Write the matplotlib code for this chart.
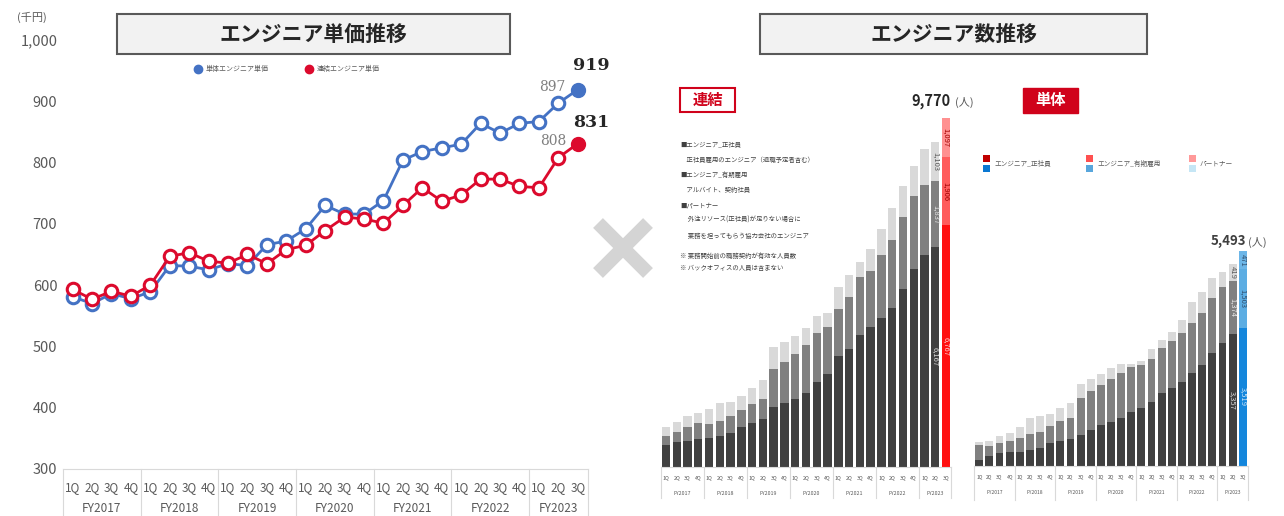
import numpy as np
import matplotlib.pyplot as plt
from matplotlib.patches import Rectangle
from matplotlib.lines import Line2D

plt.rcParams['font.family'] = ['Noto Sans CJK JP', 'DejaVu Sans']

W, H = 1284, 516

# ---- データ: エンジニア単価推移 (千円) ----
quarters = ['1Q', '2Q', '3Q', '4Q'] * 6 + ['1Q', '2Q', '3Q']
years = ['FY2017', 'FY2018', 'FY2019', 'FY2020', 'FY2021', 'FY2022', 'FY2023']
year_len = [4, 4, 4, 4, 4, 4, 3]
price_tantai = [581, 570, 586, 578, 589, 632, 631, 625, 635, 632, 666, 672, 692, 730,
                716, 716, 738, 804, 818, 824, 830, 864, 848, 864, 867, 897, 919]
price_renketsu = [593, 577, 590, 582, 600, 647, 653, 639, 636, 650, 635, 658, 665, 689,
                  711, 708, 701, 730, 759, 737, 747, 773, 773, 761, 759, 808, 831]

# ---- データ: エンジニア数推移 (人) 連結 ----
ren_seishain = [610, 690, 730, 780, 820, 880, 940, 1110, 1240, 1340, 1670, 1780, 1910, 2080,
                2390, 2600, 3120, 3300, 3700, 3910, 4160, 4460, 5000, 5540, 5940, 6167, 6767]
ren_yuki = [260, 300, 390, 460, 390, 410, 490, 490, 520, 570, 1070, 1170, 1250, 1340,
            1350, 1310, 1300, 1450, 1630, 1590, 1780, 1900, 2000, 2060, 1960, 1837, 1906]
ren_partner = [260, 260, 310, 260, 410, 490, 400, 400, 460, 530, 610, 540, 510, 480,
               500, 390, 610, 630, 420, 600, 720, 900, 870, 830, 1020, 1103, 1097]

# ---- 単体 ----
tan_seishain = [146, 256, 317, 342, 358, 409, 452, 572, 623, 675, 784, 912, 1032, 1117,
                1226, 1380, 1482, 1635, 1865, 1993, 2146, 2361, 2566, 2872, 3148, 3357, 3519]
tan_yuki = [383, 255, 255, 297, 350, 393, 417, 450, 511, 551, 946, 1004, 1038, 1098,
            1150, 1149, 1083, 1083, 1135, 1193, 1237, 1277, 1348, 1420, 1410, 1374, 1503]
tan_partner = [84, 120, 187, 189, 273, 424, 401, 299, 348, 376, 365, 299, 265, 281,
               230, 71, 118, 264, 212, 238, 347, 552, 532, 511, 392, 419, 471]

ren_total = 9770
tan_total = 5493

BLUE = '#4472c4'
RED = '#dc0a2d'
GRAY_TXT = '#595959'


def fx(x):
    return x / W


def fy(y):
    return 1 - y / H


def fig_rect(fig, x0, y0, x1, y1, **kw):
    fig.add_artist(Rectangle((fx(x0), fy(y1)), (x1 - x0) / W, (y1 - y0) / H,
                             transform=fig.transFigure, **kw))


def cat_axis(ax, q_y, y_y, bot_y, qsize, ysize):
    n = len(quarters)
    for i, q in enumerate(quarters):
        ax.text(i, q_y, q, transform=ax.get_xaxis_transform(), ha='center', va='center',
                fontsize=qsize, color=GRAY_TXT)
    start = 0
    edges = [-0.5]
    for yr, ln in zip(years, year_len):
        ax.text(start + (ln - 1) / 2, y_y, yr, transform=ax.get_xaxis_transform(),
                ha='center', va='center', fontsize=ysize, color=GRAY_TXT)
        start += ln
        edges.append(start - 0.5)
    for e in edges:
        ax.add_line(Line2D([e, e], [0, bot_y], transform=ax.get_xaxis_transform(),
                           color='#d9d9d9', lw=0.8, clip_on=False))
    ax.set_xlim(-0.5, n - 0.5)
    ax.set_xticks([])
    for s in ['top', 'right', 'left']:
        ax.spines[s].set_visible(False)
    ax.spines['bottom'].set_color('#d9d9d9')
    ax.spines['bottom'].set_linewidth(0.8)


fig = plt.figure(figsize=(W / 100, H / 100), dpi=100)

# ================= 左: 単価推移 =================
ax = fig.add_axes([fx(62.9), fy(469), (587.5 - 62.9) / W, (469 - 40) / H])
x = np.arange(len(quarters))
ax.plot(x[:-1], price_tantai[:-1], color=BLUE, lw=2, marker='o', ms=9,
        mfc='white', mec=BLUE, mew=2.2, zorder=3)
ax.plot(x[-2:], price_tantai[-2:], color=BLUE, lw=2, zorder=2)
ax.plot(x[-1], price_tantai[-1], marker='o', ms=10, color=BLUE, zorder=4)
ax.plot(x[:-1], price_renketsu[:-1], color=RED, lw=2, marker='o', ms=9,
        mfc='white', mec=RED, mew=2.2, zorder=5)
ax.plot(x[-2:], price_renketsu[-2:], color=RED, lw=2, zorder=4)
ax.plot(x[-1], price_renketsu[-1], marker='o', ms=10, color=RED, zorder=6)
ax.set_ylim(300, 1000)
ax.set_yticks(range(300, 1001, 100))
ax.set_yticklabels([f'{v:,}' for v in range(300, 1001, 100)])
ax.tick_params(axis='y', length=0, pad=4, labelsize=10.5, labelcolor=GRAY_TXT)
cat_axis(ax, -0.042, -0.092, -0.11, 8.5, 8.5)

ax.annotate(f'{price_tantai[-1]}', (x[-1], price_tantai[-1]), xytext=(10, 14),
            textcoords='offset points', ha='center', fontsize=12.5, weight='bold',
            color='#262626', family='DejaVu Serif')
ax.annotate(f'{price_tantai[-2]}', (x[-2], price_tantai[-2]), xytext=(-4, 9),
            textcoords='offset points', ha='center', fontsize=10, color='#7f7f7f',
            family='DejaVu Serif')
ax.annotate(f'{price_renketsu[-1]}', (x[-1], price_renketsu[-1]), xytext=(10, 12),
            textcoords='offset points', ha='center', fontsize=12.5, weight='bold',
            color='#262626', family='DejaVu Serif')
ax.annotate(f'{price_renketsu[-2]}', (x[-2], price_renketsu[-2]), xytext=(-4, 9),
            textcoords='offset points', ha='center', fontsize=10, color='#7f7f7f',
            family='DejaVu Serif')

fig.text(fx(32), fy(17), '(千円)', ha='center', va='center', fontsize=8, color=GRAY_TXT)

# title box
fig_rect(fig, 117, 14, 510, 54, facecolor='#f2f2f2', edgecolor='#595959', lw=1.5)
fig.text(fx(313.5), fy(34), 'エンジニア単価推移', ha='center', va='center',
         fontsize=15, weight='bold', color='#262626')

# legend
fig.add_artist(Line2D([fx(198)], [fy(69)], marker='o', ms=6, color=BLUE,
                      transform=fig.transFigure))
fig.text(fx(206), fy(69), '単体エンジニア単価', va='center', fontsize=5, color=GRAY_TXT)
fig.add_artist(Line2D([fx(309)], [fy(69)], marker='o', ms=6, color=RED,
                      transform=fig.transFigure))
fig.text(fx(317), fy(69), '連結エンジニア単価', va='center', fontsize=5, color=GRAY_TXT)

# gray X
for (x0, y0, x1, y1) in [(598, 223, 648, 273), (598, 273, 648, 223)]:
    fig.add_artist(Line2D([fx(x0), fx(x1)], [fy(y0), fy(y1)], color='#d4d4d4', lw=10,
                          solid_capstyle='butt', transform=fig.transFigure))

# right title
fig_rect(fig, 760, 14, 1147, 54, facecolor='#f2f2f2', edgecolor='#595959', lw=1.5)
fig.text(fx(953.5), fy(34), 'エンジニア数推移', ha='center', va='center',
         fontsize=15, weight='bold', color='#262626')


def stacked(ax, a, b, c, last_cols, lab_cols):
    n = len(a)
    cols_a = ['#404040'] * (n - 1) + [last_cols[0]]
    cols_b = ['#808080'] * (n - 1) + [last_cols[1]]
    cols_c = ['#d9d9d9'] * (n - 1) + [last_cols[2]]
    xs = np.arange(n)
    a = np.array(a)
    b = np.array(b)
    c = np.array(c)
    ax.bar(xs, a, 0.78, color=cols_a)
    ax.bar(xs, b, 0.78, bottom=a, color=cols_b)
    ax.bar(xs, c, 0.78, bottom=a + b, color=cols_c)
    for i, tc in zip([n - 2, n - 1], lab_cols):
        for val, base, col in zip([a[i], b[i], c[i]], [0, a[i], a[i] + b[i]], tc):
            ax.text(i, base + val / 2, f'{val:,}', rotation=270, ha='center',
                    va='center', fontsize=5.5, color=col)


# ================= 連結 =================
axr = fig.add_axes([fx(660.6), fy(467), (951.4 - 660.6) / W, 357 / H])
stacked(axr, ren_seishain, ren_yuki, ren_partner, ['#ff1010', '#ff5c5c', '#ff9090'],
        [['#d9d9d9', '#e6e6e6', '#595959'], ['#ffd0d0', '#a00000', '#a00000']])
axr.set_ylim(0, 10000)
axr.set_yticks([])
cat_axis(axr, -0.031, -0.073, -0.087, 3.8, 3.8)
axr.patch.set_alpha(0)

fig_rect(fig, 680, 88, 735, 112, facecolor='white', edgecolor='#d0021b', lw=1.5)
fig.text(fx(707.5), fy(100), '連結', ha='center', va='center', fontsize=11,
         weight='bold', color='#d0021b')
fig.text(fx(951), fy(101), f'{ren_total:,}', ha='right', va='center', fontsize=10.5,
         weight='bold', color='#262626')
fig.text(fx(955), fy(102), '(人)', ha='left', va='center', fontsize=8, color=GRAY_TXT)

notes = [(145, '■エンジニア_正社員'),
         (160, '　正社員雇用のエンジニア（退職予定者含む）'),
         (175, '■エンジニア_有期雇用'),
         (190, '　アルバイト、契約社員'),
         (205, '■パートナー'),
         (220, '　 外注リソース(正社員)が足りない場合に'),
         (236, '　 業務を担ってもらう協力会社のエンジニア'),
         (256, '※ 業務開始前の職務契約が有効な人員数'),
         (268, '※ バックオフィスの人員は含まない')]
for yy, t in notes:
    fig.text(fx(680), fy(yy), t, ha='left', va='center', fontsize=4.6, color='#404040')

# ================= 単体 =================
axt = fig.add_axes([fx(974.2), fy(465.7), (1247.8 - 974.2) / W, 234.8 / H])
stacked(axt, tan_seishain, tan_yuki, tan_partner, ['#1486dc', '#5cade3', '#6cb6e8'],
        [['#d9d9d9', '#e6e6e6', '#595959'], ['#cfe6f7', '#2f4f6f', '#2f4f6f']])
axt.set_ylim(0, 6000)
axt.set_yticks([])
cat_axis(axt, -0.048, -0.116, -0.146, 3.6, 3.6)
axt.patch.set_alpha(0)

fig_rect(fig, 1023, 88, 1078, 113, facecolor='#d0021b', edgecolor='#d0021b', lw=1)
fig.text(fx(1050.5), fy(100.5), '単体', ha='center', va='center', fontsize=11,
         weight='bold', color='white')
fig.text(fx(1246), fy(241), f'{tan_total:,}', ha='right', va='center', fontsize=9.5,
         weight='bold', color='#404040')
fig.text(fx(1248), fy(242), '(人)', ha='left', va='center', fontsize=8, color=GRAY_TXT)

leg = [(986, '#c00000', '#0a78d2', 'エンジニア_正社員'),
       (1089, '#ff5050', '#58a6dc', 'エンジニア_有期雇用'),
       (1192, '#ff9999', '#c5e6f5', 'パートナー')]
for lx, c1, c2, t in leg:
    fig_rect(fig, lx - 3.5, 155, lx + 3.5, 162, facecolor=c1, edgecolor='none')
    fig_rect(fig, lx - 3.5, 165, lx + 3.5, 172, facecolor=c2, edgecolor='none')
    fig.text(fx(lx + 8), fy(164), t, ha='left', va='center', fontsize=4.8, color=GRAY_TXT)

fig.savefig('out.png', dpi=100)
